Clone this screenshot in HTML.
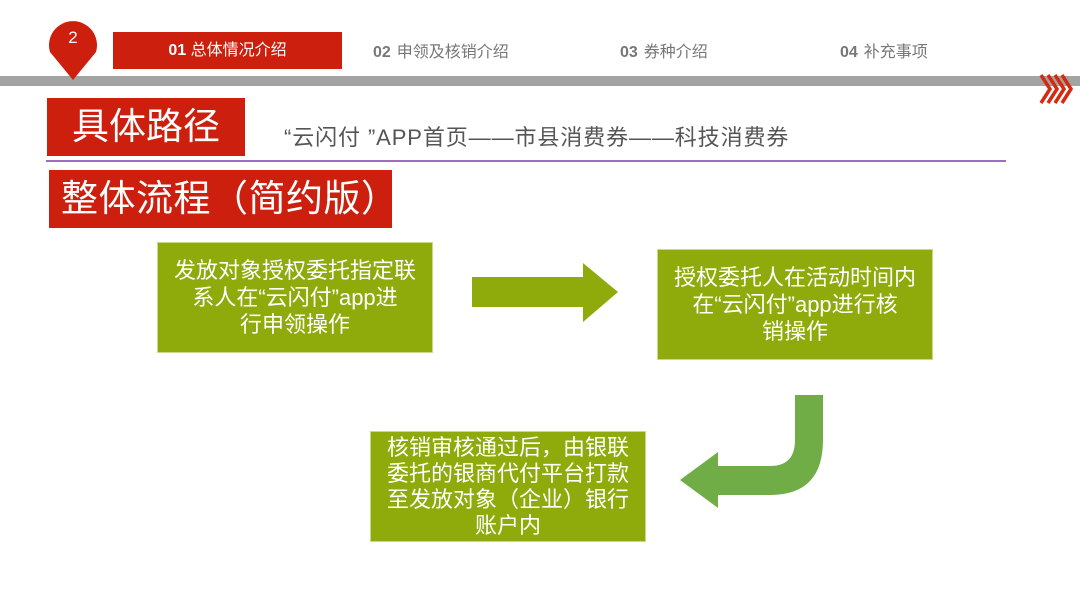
<!DOCTYPE html>
<html><head><meta charset="utf-8"><style>
body{margin:0;width:1080px;height:608px;background:#fff;position:relative;overflow:hidden;font-family:"Liberation Sans","Noto Sans CJK SC",sans-serif}
.a{position:absolute}
.g{position:absolute;background:#8faa0b;color:#fff;font-size:22px;line-height:27px;text-align:center;display:flex;align-items:center;justify-content:center;border:1px solid #c9d98a;box-sizing:border-box}
.nav{position:absolute;top:38px;font-size:16px;color:#777}
.nav b{font-weight:bold;margin-right:6px}
</style></head><body>
<div class="a" style="left:0;top:76px;width:1080px;height:10px;background:#a3a3a3"></div>
<svg class="a" style="left:0;top:0" width="1080" height="608">
<path d="M50,52 A24,24 0 1 1 96,52 L73,80 Z" fill="#cc1f0e"/>
<g fill="none" stroke="#d42a10" stroke-width="3.5">
<polyline points="1041,75 1050,89 1041,103"/><polyline points="1048,75 1057,89 1048,103"/><polyline points="1055,75 1064,89 1055,103"/><polyline points="1062,75 1071,89 1062,103"/>
</g>
<line x1="46" y1="161" x2="1006" y2="161" stroke="#9a6fc4" stroke-width="2"/>
<path d="M472,277 L583,277 L583,263 L618,292 L583,322 L583,307 L472,307 Z" fill="#8faa0b"/>
<path d="M795,395 L823,395 L823,440 Q823,495 770,495 L718,495 L718,508 L680,480 L718,452 L718,466 L770,466 Q795,466 795,440 Z" fill="#70ad47"/>
</svg>
<div class="a" style="left:60px;top:28px;width:26px;text-align:center;color:#fff;font-size:17px">2</div>
<div class="a" style="left:113px;top:32px;width:229px;height:37px;background:#cc1f0e;color:#fff;font-size:16px;line-height:37px;text-align:center"><b>01</b> 总体情况介绍</div>
<div class="nav" style="left:373px"><b>02</b>申领及核销介绍</div>
<div class="nav" style="left:620px"><b>03</b>券种介绍</div>
<div class="nav" style="left:840px"><b>04</b>补充事项</div>
<div class="a" style="left:47px;top:98px;width:198px;height:58px;background:#cc1f0e;color:#fff;font-size:37px;line-height:58px;text-align:center">具体路径</div>
<div class="a" style="left:284px;top:120px;font-size:22px;letter-spacing:0.9px;color:#555">“云闪付 ”APP首页——市县消费券——科技消费券</div>
<div class="a" style="left:49px;top:170px;width:343px;height:58px;background:#cc1f0e;color:#fff;font-size:37px;line-height:58px;padding-left:12px;box-sizing:border-box;letter-spacing:0.5px">整体流程（简约版）</div>
<div class="g" style="left:157px;top:242px;width:276px;height:111px">发放对象授权委托指定联<br>系人在“云闪付”app进<br>行申领操作</div>
<div class="g" style="left:657px;top:249px;width:276px;height:111px">授权委托人在活动时间内<br>在“云闪付”app进行核<br>销操作</div>
<div class="g" style="left:370px;top:431px;width:276px;height:111px;line-height:26px">核销审核通过后，由银联<br>委托的银商代付平台打款<br>至发放对象（企业）银行<br>账户内</div>
</body></html>
